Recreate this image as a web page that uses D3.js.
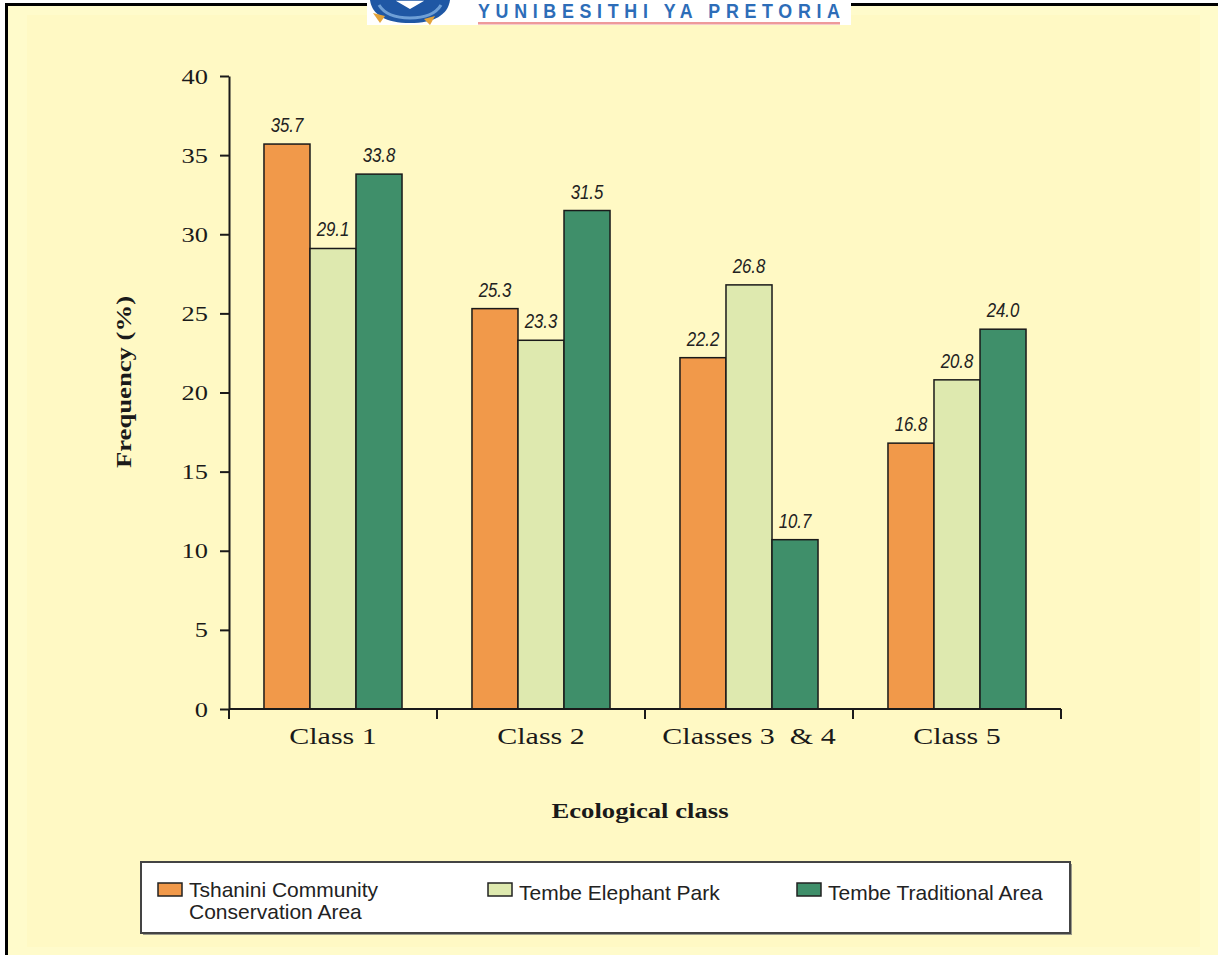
<!DOCTYPE html>
<html>
<head>
<meta charset="utf-8">
<script src="https://cdn.jsdelivr.net/npm/d3@7"></script>
<style>
  html, body { margin: 0; padding: 0; background: #fff; }
  svg { display: block; }
</style>
</head>
<body>
<div id="chart"></div>
<script>
// data
const categories = ["Class 1", "Class 2", "Classes 3  & 4", "Class 5"];
const seriesNames = ["Tshanini Community Conservation Area", "Tembe Elephant Park", "Tembe Traditional Area"];
const tshanini = [35.7, 25.3, 22.2, 16.8];
const elephantPark = [29.1, 23.3, 26.8, 20.8];
const traditional = [33.8, 31.5, 10.7, 24.0];
const yTicks = [0, 5, 10, 15, 20, 25, 30, 35, 40];
const colors = ["#F1994A", "#DEE9AF", "#3F8F6A"];

const seriesValues = [tshanini, elephantPark, traditional];
const rows = categories.map((c, i) => ({
  cat: c,
  vals: seriesNames.map((s, j) => ({ series: s, j: j, v: seriesValues[j][i] }))
}));

const W = 1218, H = 955;
const svg = d3.select("#chart").append("svg")
  .attr("width", W).attr("height", H);

// page background + frame
svg.append("rect").attr("x", 5).attr("y", 3).attr("width", W - 5).attr("height", H - 3)
  .attr("fill", "#FFFBCB");
svg.append("rect").attr("x", 27).attr("y", 15).attr("width", 1173).attr("height", 932)
  .attr("fill", "#FFF9C4");
svg.append("rect").attr("x", 5).attr("y", 3).attr("width", W - 5).attr("height", 3).attr("fill", "#000");
svg.append("rect").attr("x", 5).attr("y", 3).attr("width", 3).attr("height", H - 3).attr("fill", "#000");

// logo strip at the top
const logo = svg.append("g");
logo.append("rect").attr("x", 367).attr("y", 0).attr("width", 484).attr("height", 25).attr("fill", "#fff");
logo.append("path")
  .attr("d", "M370,0 C372,15 386,23 410,23 C434,23 448,15 450,0 Z")
  .attr("fill", "#1F57A4");
logo.append("path")
  .attr("d", "M379,5 C385,15 396,18 410,18 C424,18 435,15 441,5")
  .attr("fill", "none").attr("stroke", "#6E9FD6").attr("stroke-width", 3);
logo.append("path").attr("d", "M393,0 L410,10 L427,0 Z").attr("fill", "#fff")
  .attr("stroke", "#1F57A4").attr("stroke-width", 1.5);
logo.append("path").attr("d", "M373,13 L380,23 L385,16 Z").attr("fill", "#E3A33A");
logo.append("path").attr("d", "M424,19 L430,25 L435,16 Z").attr("fill", "#E3A33A");
logo.append("text")
  .attr("transform", "translate(478,18) scale(0.85,1)")
  .attr("textLength", 362 / 0.85).attr("lengthAdjust", "spacing")
  .style("font-family", "'Liberation Sans', Arial, sans-serif")
  .style("font-weight", "bold").style("font-size", "21px")
  .attr("fill", "#2D6DB8")
  .text("YUNIBESITHI YA PRETORIA");
logo.append("rect").attr("x", 478).attr("y", 22).attr("width", 362).attr("height", 2.5)
  .attr("fill", "#EE9A9A");

// scales
const plotLeft = 229, plotRight = 1061, plotTop = 76, plotBottom = 709;
const x0 = d3.scaleBand().domain(categories).range([plotLeft, plotRight]).padding(0);
const x1 = d3.scaleBand().domain(seriesNames).range([0, x0.bandwidth()]).paddingInner(0).paddingOuter(0.76);
const y = d3.scaleLinear().domain([0, 40]).range([plotBottom, plotTop]);

const serif = "'Liberation Serif', 'Times New Roman', serif";
const sans = "'Liberation Sans', Arial, sans-serif";
const stretch = 1.27;

// bars
const groups = svg.append("g").selectAll("g.grp")
  .data(rows).join("g")
  .attr("class", "grp")
  .attr("transform", d => `translate(${x0(d.cat)},0)`);

groups.selectAll("rect")
  .data(d => d.vals).join("rect")
  .attr("x", d => x1(d.series))
  .attr("y", d => y(d.v))
  .attr("width", x1.bandwidth())
  .attr("height", d => y(0) - y(d.v))
  .attr("fill", d => colors[d.j])
  .attr("stroke", "#1a1a1a")
  .attr("stroke-width", 1.5);

// value labels (narrow italic)
groups.selectAll("text")
  .data(d => d.vals).join("text")
  .attr("transform", d => `translate(${x1(d.series) + x1.bandwidth() / 2},${y(d.v) - 12}) scale(0.8,1)`)
  .attr("text-anchor", "middle")
  .style("font-family", sans).style("font-style", "italic").style("font-size", "21px")
  .attr("fill", "#222")
  .text(d => d.v.toFixed(1));

// y axis
const yAxis = svg.append("g")
  .attr("transform", `translate(${plotLeft},0)`)
  .call(d3.axisLeft(y).tickValues(yTicks).tickSize(9).tickSizeOuter(0).tickPadding(12));
yAxis.select(".domain").attr("stroke", "#1a1a1a").attr("stroke-width", 2);
yAxis.selectAll(".tick line").attr("stroke", "#1a1a1a").attr("stroke-width", 2);
yAxis.selectAll(".tick text")
  .attr("x", -21 / 1.2)
  .attr("transform", "scale(1.2,1)")
  .style("font-family", serif).style("font-size", "22px").attr("fill", "#1a1a1a");

// x axis: baseline, boundary ticks, labels
const xAxis = svg.append("g")
  .attr("transform", `translate(0,${plotBottom})`)
  .call(d3.axisBottom(x0).tickSize(0).tickPadding(18));
xAxis.select(".domain").remove();
xAxis.append("line").attr("x1", plotLeft).attr("x2", plotRight)
  .attr("stroke", "#1a1a1a").attr("stroke-width", 2);
const bounds = [x0.range()[0]].concat(categories.map(c => x0(c) + x0.step()));
xAxis.selectAll("line.bound").data(bounds).join("line")
  .attr("class", "bound")
  .attr("x1", d => d).attr("x2", d => d).attr("y1", 0).attr("y2", 10)
  .attr("stroke", "#1a1a1a").attr("stroke-width", 2);
xAxis.selectAll(".tick text")
  .attr("transform", "scale(1.25,1)")
  .style("font-family", serif).style("font-size", "24px").style("white-space", "pre")
  .attr("fill", "#1a1a1a");

// axis titles
svg.append("text")
  .attr("transform", `translate(640,818) scale(${stretch},1)`)
  .attr("text-anchor", "middle")
  .style("font-family", serif).style("font-weight", "bold").style("font-size", "21px")
  .attr("fill", "#1a1a1a")
  .text("Ecological class");

svg.append("text")
  .attr("transform", `translate(131,382) rotate(-90) scale(${stretch},1)`)
  .attr("text-anchor", "middle")
  .style("font-family", serif).style("font-weight", "bold").style("font-size", "21px")
  .attr("fill", "#1a1a1a")
  .text("Frequency (%)");

// legend
const legend = svg.append("g");
legend.append("rect").attr("x", 143).attr("y", 864).attr("width", 929).attr("height", 71)
  .attr("fill", "#9a9a8a");
legend.append("rect").attr("x", 141).attr("y", 862).attr("width", 929).attr("height", 71)
  .attr("fill", "#fff").attr("stroke", "#444").attr("stroke-width", 2);

const legendX = [158, 488, 797];
const legendLines = [["Tshanini Community", "Conservation Area"], ["Tembe Elephant Park"], ["Tembe Traditional Area"]];
const item = legend.selectAll("g.item")
  .data(seriesNames).join("g")
  .attr("class", "item")
  .attr("transform", (d, i) => `translate(${legendX[i]},883)`);
item.append("rect")
  .attr("width", 24).attr("height", 13)
  .attr("fill", (d, i) => colors[i])
  .attr("stroke", "#222").attr("stroke-width", 1.5);
item.each(function(d, i) {
  const t = d3.select(this).append("text")
    .attr("x", 31).attr("y", i === 0 ? 14 : 17)
    .style("font-family", sans).style("font-size", "21px")
    .attr("fill", "#222");
  legendLines[i].forEach((line, k) => {
    t.append("tspan").attr("x", 31).attr("dy", k === 0 ? 0 : 22).text(line);
  });
});
</script>
</body>
</html>
